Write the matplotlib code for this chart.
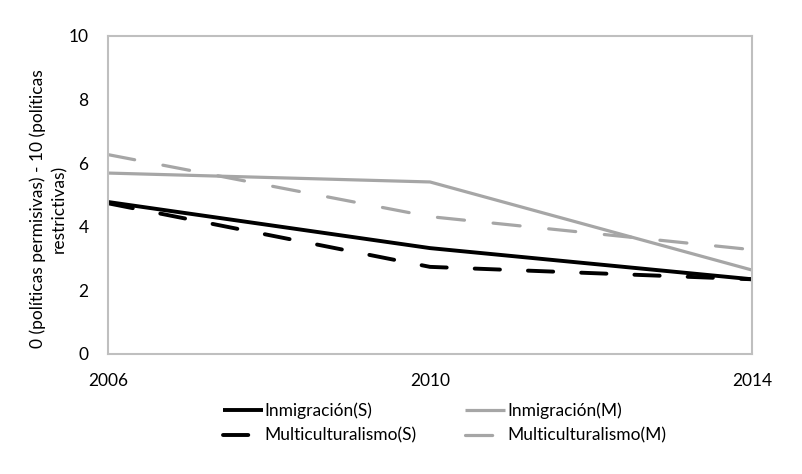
import matplotlib
matplotlib.use("Agg")
import matplotlib.pyplot as plt

plt.rcParams['font.family'] = ['Lato', 'DejaVu Sans']

years = [2006, 2010, 2014]
year_labels = ["2006", "2010", "2014"]
inmig_s = [4.78, 3.33, 2.35]
multi_s = [4.74, 2.74, 2.35]
inmig_m = [5.69, 5.41, 2.64]
multi_m = [6.27, 4.32, 3.28]
yticks = [0, 2, 4, 6, 8, 10]
ylabel = "0 (políticas permisivas) - 10 (políticas\nrestrictivas)"

FS = 12.5

fig = plt.figure(figsize=(8.03, 4.74), dpi=100)
ax = fig.add_axes([108/803, 1-354/474, (752-108)/803, (354-36)/474])

black = "#000000"
gray = "#a6a6a6"
ax.plot(years, inmig_s, color=black, lw=2.8, label="Inmigración(S)", solid_capstyle='butt')
ax.plot(years, inmig_m, color=gray, lw=2.3, label="Inmigración(M)", solid_capstyle='butt')
ax.plot(years, multi_s, color=black, lw=2.8, dashes=(6.5, 7.2), label="Multiculturalismo(S)", dash_capstyle='round')
ax.plot(years, multi_m, color=gray, lw=2.3, dashes=(8.5, 9), label="Multiculturalismo(M)", dash_capstyle='round')

ax.set_xlim(2006, 2014)
ax.set_ylim(0, 10)
ax.set_xticks(years)
ax.set_xticklabels(year_labels)
ax.set_yticks(yticks)
ax.tick_params(length=0, labelsize=FS, colors="#000000")
ax.tick_params(axis='x', pad=14)
ax.tick_params(axis='y', pad=14)
for s in ax.spines.values():
    s.set_color("#bfbfbf")
    s.set_linewidth(1.5)
fig.text(48.5/803, 1-209/474, ylabel, rotation=90, ha='center', va='center',
         multialignment='center', fontsize=FS, linespacing=1.4)

handles, labels = ax.get_legend_handles_labels()
order = [0, 2, 1, 3]
leg = fig.legend([handles[i] for i in order], [labels[i] for i in order], ncol=2,
                 loc='center', bbox_to_anchor=(444.5/803, 1-423/474), frameon=False,
                 fontsize=FS, handlelength=2.3, handletextpad=0.1,
                 columnspacing=2.8, labelspacing=0.5)

fig.savefig("out.png", dpi=100)
